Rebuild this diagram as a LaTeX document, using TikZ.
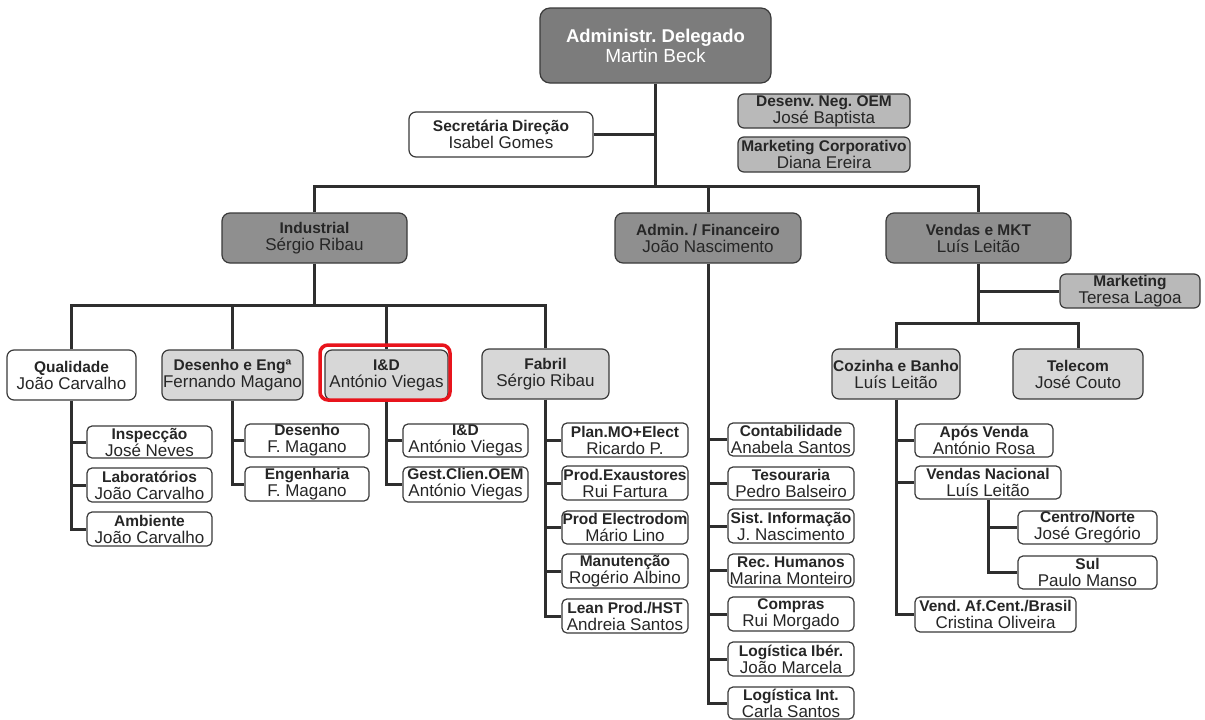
\documentclass[tikz,border=0pt]{standalone}
\usepackage{fontspec}
\setmainfont{Liberation Sans}
\frenchspacing
\definecolor{bordc}{HTML}{3A3A3A}
\definecolor{linec}{HTML}{2E2E2E}
\definecolor{txtc}{HTML}{262626}
\definecolor{topfill}{HTML}{7C7C7C}
\definecolor{darkfill}{HTML}{8F8F8F}
\definecolor{midfill}{HTML}{B9B9B9}
\definecolor{lightfill}{HTML}{D7D7D7}
\definecolor{hired}{HTML}{E8141C}
\newcommand\orgbox[8]{%
  \node[#2, minimum width={#5-#3}, minimum height={#6-#4}] (#1) at ({(#3+#5)/2},{(#4+#6)/2}) {{\bfseries\fontsize{15.5}{17}\selectfont #7}\\#8};}
\tikzset{
  basebox/.style={draw=bordc, line width=1.2pt, rounded corners=5pt, inner sep=0pt,
    align=center, text=txtc, font=\fontsize{17}{17}\selectfont},
  whitebox/.style={basebox, fill=white},
  lightbox/.style={basebox, fill=lightfill, rounded corners=7pt},
  midbox/.style={basebox, fill=midfill, rounded corners=6pt},
  darkbox/.style={basebox, fill=darkfill, rounded corners=8pt},
  conn/.style={draw=linec, line width=3pt},
}
\begin{document}
\begin{tikzpicture}[x=1pt,y=-1pt]
\useasboundingbox (0,0) rectangle (1205,720);
\fill[white] (0,0) rectangle (1205,720);

% top
\node[basebox, fill=topfill, rounded corners=10pt, text=white, minimum width=231, minimum height=75,
  font=\fontsize{19}{20}\selectfont] (top) at (655.5,45.5)
  {{\bfseries\fontsize{18.5}{20}\selectfont Administr. Delegado}\\Martin Beck};

\orgbox{sec}{whitebox, rounded corners=7pt}{409}{112}{593}{157}{Secretária Direção}{Isabel Gomes}
\orgbox{desenv}{midbox}{738}{94}{910}{128}{Desenv. Neg. OEM}{José Baptista}
\orgbox{mktc}{midbox}{738}{137}{910}{172}{Marketing Corporativo}{Diana Ereira}

\orgbox{ind}{darkbox}{222}{213}{407}{263}{Industrial}{Sérgio Ribau}
\orgbox{adm}{darkbox}{615}{213}{801}{263}{Admin. / Financeiro}{João Nascimento}
\orgbox{vend}{darkbox}{886}{213}{1071}{263}{Vendas e MKT}{Luís Leitão}
\orgbox{mkt}{midbox}{1060}{274}{1200}{308}{Marketing}{Teresa Lagoa}

\orgbox{qual}{whitebox, rounded corners=7pt}{7}{350}{136}{400}{Qualidade}{João Carvalho}
\orgbox{des}{lightbox}{162}{350}{303}{400}{Desenho e Engª}{Fernando Magano}
\orgbox{id}{lightbox}{325}{350}{448}{400}{I\&D}{António Viegas}
\orgbox{fab}{lightbox}{482}{349}{609}{399}{Fabril}{Sérgio Ribau}
\orgbox{coz}{lightbox}{832}{349}{960}{399}{Cozinha e Banho}{Luís Leitão}
\orgbox{tel}{lightbox}{1013}{349}{1143}{399}{Telecom}{José Couto}

\orgbox{insp}{whitebox}{87}{426}{212}{458}{Inspecção}{José Neves}
\orgbox{lab}{whitebox}{87}{468}{212}{502}{Laboratórios}{João Carvalho}
\orgbox{amb}{whitebox}{87}{512}{212}{546}{Ambiente}{João Carvalho}

\orgbox{desn}{whitebox}{245}{424}{369}{457}{Desenho}{F. Magano}
\orgbox{eng}{whitebox}{245}{467}{369}{501}{Engenharia}{F. Magano}

\orgbox{idc}{whitebox}{403}{424}{528}{457}{I\&D}{António Viegas}
\orgbox{gest}{whitebox}{403}{467}{528}{502}{Gest.Clien.OEM}{António Viegas}

\orgbox{plan}{whitebox}{562}{423}{688}{457}{Plan.MO+Elect}{Ricardo P.}
\orgbox{exa}{whitebox}{562}{466}{688}{500}{Prod.Exaustores}{Rui Fartura}
\orgbox{ele}{whitebox}{562}{511}{688}{544}{Prod Electrodom}{Mário Lino}
\orgbox{man}{whitebox}{562}{554}{688}{588}{Manutenção}{Rogério Albino}
\orgbox{lean}{whitebox}{562}{599}{688}{633}{Lean Prod./HST}{Andreia Santos}

\orgbox{cont}{whitebox}{728}{423}{854}{456}{Contabilidade}{Anabela Santos}
\orgbox{tes}{whitebox}{728}{467}{854}{500}{Tesouraria}{Pedro Balseiro}
\orgbox{sist}{whitebox}{728}{509}{854}{543}{Sist. Informação}{J. Nascimento}
\orgbox{rec}{whitebox}{728}{554}{854}{587}{Rec. Humanos}{Marina Monteiro}
\orgbox{comp}{whitebox}{728}{597}{854}{631}{Compras}{Rui Morgado}
\orgbox{logi}{whitebox}{728}{642}{854}{676}{Logística Ibér.}{João Marcela}
\orgbox{logt}{whitebox}{728}{687}{854}{719}{Logística Int.}{Carla Santos}

\orgbox{apos}{whitebox}{915}{424}{1053}{457}{Após Venda}{António Rosa}
\orgbox{vnac}{whitebox}{915}{466}{1061}{499}{Vendas Nacional}{Luís Leitão}
\orgbox{vaf}{whitebox}{915}{597}{1076}{632}{Vend. Af.Cent./Brasil}{Cristina Oliveira}
\orgbox{cn}{whitebox}{1018}{511}{1157}{544}{Centro/Norte}{José Gregório}
\orgbox{sul}{whitebox}{1018}{556}{1157}{589}{Sul}{Paulo Manso}

% connectors
\coordinate (j0) at (655.5,186);
\draw[conn] (top.south) -- (j0);
\draw[conn] (sec.east) -- (sec.east -| j0);
\draw[conn] (ind.north) |- (j0) -| (vend.north);
\draw[conn] (adm.north |- j0) -- (adm.north);

\path (ind.south) ++(0,42) coordinate (j1);
\draw[conn] (ind.south) -- (j1);
\draw[conn] (qual.north) |- (j1) -| (fab.north);
\draw[conn] (des.north |- j1) -- (des.north);
\draw[conn] (id.north |- j1) -- (id.north);

\draw[conn] (qual.south) |- (amb.west);
\draw[conn] (qual.south |- insp.west) -- (insp.west);
\draw[conn] (qual.south |- lab.west) -- (lab.west);

\draw[conn] (des.south) |- (eng.west);
\draw[conn] (des.south |- desn.west) -- (desn.west);

\draw[conn] (id.south) |- (gest.west);
\draw[conn] (id.south |- idc.west) -- (idc.west);

\draw[conn] (fab.south) |- (lean.west);
\draw[conn] (fab.south |- plan.west) -- (plan.west);
\draw[conn] (fab.south |- exa.west) -- (exa.west);
\draw[conn] (fab.south |- ele.west) -- (ele.west);
\draw[conn] (fab.south |- man.west) -- (man.west);

\draw[conn] (adm.south) |- (logt.west);
\draw[conn] (adm.south |- cont.west) -- (cont.west);
\draw[conn] (adm.south |- tes.west) -- (tes.west);
\draw[conn] (adm.south |- sist.west) -- (sist.west);
\draw[conn] (adm.south |- rec.west) -- (rec.west);
\draw[conn] (adm.south |- comp.west) -- (comp.west);
\draw[conn] (adm.south |- logi.west) -- (logi.west);

\path (vend.south) ++(0,60) coordinate (j2);
\draw[conn] (vend.south) -- (j2);
\draw[conn] (vend.south |- mkt.west) -- (mkt.west);
\draw[conn] (coz.north) |- (j2) -| (tel.north);

\draw[conn] (coz.south) |- (vaf.west);
\draw[conn] (coz.south |- apos.west) -- (apos.west);
\draw[conn] (coz.south |- vnac.west) -- (vnac.west);

\draw[conn] (vnac.south) |- (sul.west);
\draw[conn] (vnac.south |- cn.west) -- (cn.west);

% highlight
\node[draw=hired, line width=3.5pt, rounded corners=8pt, inner sep=0pt,
  minimum width=130, minimum height=55] (hl) at (385,372.5) {};
\end{tikzpicture}
\end{document}
